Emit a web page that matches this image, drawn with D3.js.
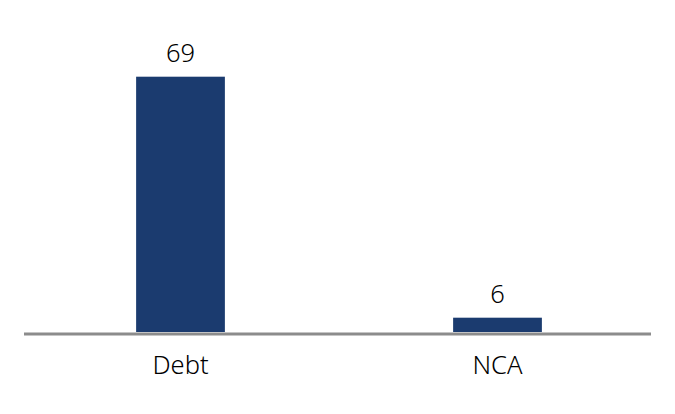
<!DOCTYPE html>
<html>
<head>
<meta charset="utf-8">
<script src="https://cdn.jsdelivr.net/npm/d3@7"></script>
<style>
  html, body { margin: 0; padding: 0; background: #fff; }
  svg { display: block; }
  text { font-family: "Noto Sans", "Open Sans", sans-serif; font-weight: 300; fill: #000; }
</style>
</head>
<body>
<svg id="chart" width="675" height="414"></svg>
<script>
const categories = ["Debt", "NCA"];
const values = [69, 6];
const valueLabels = ["69", "6"];

const W = 675, H = 414;
const baseY = 332;
const svg = d3.select("#chart");

const x = d3.scaleBand()
  .domain(categories)
  .range([22, 656])
  .paddingInner(0.72)
  .paddingOuter(0.36);

const y = d3.scaleLinear()
  .domain([2.26, 69])
  .range([baseY, 76.7]);

const data = categories.map((c, i) => ({ c, v: values[i], label: valueLabels[i] }));

svg.selectAll("rect.bar")
  .data(data)
  .join("rect")
  .attr("class", "bar")
  .attr("x", d => x(d.c))
  .attr("width", x.bandwidth())
  .attr("y", d => y(d.v))
  .attr("height", d => baseY - y(d.v))
  .attr("fill", "#1b3b6f");

// baseline
svg.append("line")
  .attr("x1", 24).attr("x2", 651)
  .attr("y1", baseY + 2).attr("y2", baseY + 2)
  .attr("stroke", "#8c8c8c")
  .attr("stroke-width", 3);

// value labels
svg.selectAll("text.val")
  .data(data)
  .join("text")
  .attr("class", "val")
  .attr("x", d => x(d.c) + x.bandwidth() / 2)
  .attr("y", d => y(d.v) - 15)
  .attr("text-anchor", "middle")
  .attr("font-size", 25.5)
  .text(d => d.label);

// category labels
svg.selectAll("text.cat")
  .data(data)
  .join("text")
  .attr("class", "cat")
  .attr("x", d => x(d.c) + x.bandwidth() / 2)
  .attr("y", 373.5)
  .attr("text-anchor", "middle")
  .attr("font-size", 25.5)
  .text(d => d.c);
</script>
</body>
</html>
